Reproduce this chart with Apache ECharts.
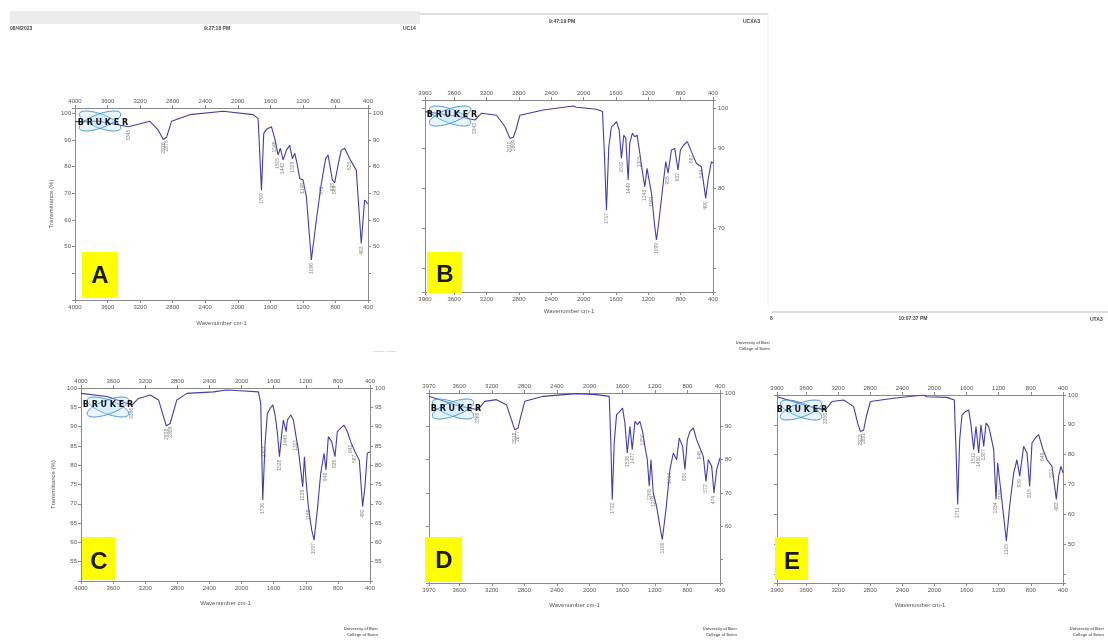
<!DOCTYPE html>
<html><head><meta charset="utf-8">
<script src="https://cdn.jsdelivr.net/npm/echarts@6/dist/echarts.min.js"></script>
<style>html,body{margin:0;padding:0;background:#fff}#c{width:1108px;height:644px}</style>
</head><body><div id="c"></div>
<script>
// ---------- DATA ----------
const wnA = [4000,3700,3345,3080,2977,2916,2875,2814,2589,2180,1811,1750,1709,1681,1648,1587,1546,1505,1476,1443,1402,1362,1329,1300,1272,1239,1198,1157,1096,1035,973,920,891,838,809,768,728,687,625,544,483,442,400];
const tA  = [96.9,97,95,97,93.7,90.2,91,97,99.5,100.8,99.5,98,71.2,92.5,94,95,90.6,84.4,86.9,82.5,86.2,88,83,85,81.2,75.6,75,68.7,45,60,73.7,83,84.4,75,74,80.6,86.2,86.9,83,78.7,51.2,67.5,66];
const peaksA = [3345,2916,2875,1709,1546,1505,1443,1329,1198,1096,973,838,809,625,483];

const wnB = [3960,3528,3343,3260,3075,2972,2910,2869,2836,2787,2499,2128,2087,1840,1766,1746,1717,1688,1655,1626,1593,1560,1532,1503,1478,1449,1429,1396,1367,1338,1305,1276,1243,1215,1190,1161,1120,1099,1067,1025,984,955,914,873,832,803,762,717,667,606,544,490,461,420,400];
const tB  = [99.1,97.8,97,98.7,98.2,95.3,92.4,92.7,94.5,98.2,99.5,100.5,100.2,99.7,99.1,90.3,74.5,90.3,95.3,95.8,96.6,94.5,87.4,93.2,92.4,82,91.2,93.7,92.8,93.2,88.7,84.5,80.3,84.9,82,78.7,70.3,67,72,79.5,86.6,83.7,89.5,89.9,84.5,89.5,90.75,91.6,89.1,86.2,85.3,77.4,82,86.6,86.2];
const peaksB = [3343,2910,2869,1717,1532,1449,1305,1243,1161,1099,955,832,667,544,490];

const wnC = [4000,3677,3366,3283,3137,3034,2972,2938,2889,2855,2806,2681,2349,2184,2018,1790,1761,1736,1707,1678,1644,1611,1582,1553,1528,1499,1479,1445,1429,1387,1354,1321,1292,1263,1238,1217,1197,1168,1126,1097,1056,1014,973,948,919,877,836,807,765,724,682,641,587,533,492,463,434,400];
const tC  = [98.6,97.8,95.6,97.3,98.2,96.9,92.6,90.2,90.8,93.4,96.9,98.6,99,99.5,99.3,99,96,71,85.7,93.4,94.7,95.6,93,88.3,82.2,88.3,91.7,88.7,91.7,93,91.7,87.4,83.9,78.8,74.4,82.2,76.2,69.3,63.2,60.6,68.4,77.9,83.1,78.8,87.4,86.1,82.2,88.7,89.6,90.4,88.7,86.1,83.5,81.3,69.3,74.4,83.1,83.5];
const peaksC = [3366,2938,2889,1736,1707,1528,1445,1321,1238,1168,1097,948,836,641,587,492];

const wnD = [3970,3593,3368,3286,3143,3020,2959,2918,2877,2844,2795,2570,2160,1915,1759,1739,1722,1698,1669,1628,1595,1567,1538,1505,1477,1444,1411,1383,1350,1321,1292,1268,1247,1219,1178,1137,1108,1063,1014,973,932,900,859,830,801,768,727,687,646,605,572,543,502,474,441,400];
const tD  = [99,96,95,97.5,98,96.5,92,89,89.5,93,97.5,99,99.8,99.5,99,85,68,85,93.5,94.5,95.5,91,82,90,83,91.5,90.5,91.5,88.5,84,80,72,80,70,66,60,56,65,77,82,80,86.5,84,77,86,88.5,89.5,86,83.5,81,73.5,80,78,70,77,80.5];
const peaksD = [3368,2918,2877,1722,1538,1477,1350,1268,1219,1108,1014,830,646,572,474];

const wnE = [3960,3545,3358,3275,3130,3006,2956,2923,2881,2848,2798,2508,2134,2093,1844,1753,1732,1711,1686,1657,1616,1574,1545,1512,1483,1450,1421,1387,1358,1325,1297,1263,1234,1213,1180,1139,1105,1064,1014,973,939,890,848,815,786,744,703,649,599,537,483,454,425,400];
const tE  = [99.4,96.1,95,97.8,98.3,96.1,90.6,87.8,88.3,92.8,97.8,98.9,100,99.4,99.2,98.3,81.7,63.3,85,93.3,94.4,95,90,81.7,89.4,80.6,90,82.8,90.6,89.4,86.1,81.7,65,77.2,69.4,59.4,51.1,62.8,73.9,78.3,72.8,82.8,80.6,69.4,83.9,85.6,86.7,81.7,78.3,76.1,65,72.8,76.1,73.9];
const peaksE = [3358,2923,2881,1711,1512,1450,1387,1234,1180,1105,939,815,649,537,483];

const yLabelsA = [50,60,70,80,90,100];
const yLabelsB = [70,80,90,100];
const yLabelsC = [55,60,65,70,75,80,85,90,95,100];
const yLabelsD = [60,70,80,90,100];
const yLabelsE = [50,60,70,80,90,100];
const panelLetters = ['A','B','C','D','E'];
const xAxisTitle = 'Wavenumber cm-1';
const yAxisTitle = 'Transmittance (%)';

// ---------- LAYOUT ----------
const panels = [
  {wn:wnA,t:tA,peaks:peaksA,yl:yLabelsA,xMax:4000,yMin:30,yMax:102,yInt:10,grid:{left:75,top:108,width:293,height:192},leftLab:true,rightLab:true,yName:true,xNameGap:20,yNameGap:21},
  {wn:wnB,t:tB,peaks:peaksB,yl:yLabelsB,xMax:3960,yMin:54,yMax:102,yInt:null,grid:{left:425,top:100,width:288,height:192},leftLab:false,rightLab:true,yName:false,xNameGap:16},
  {wn:wnC,t:tC,peaks:peaksC,yl:yLabelsC,xMax:4000,yMin:50,yMax:100,yInt:5,grid:{left:81,top:388,width:289,height:193},leftLab:true,rightLab:true,yName:true,xNameGap:19,yNameGap:25},
  {wn:wnD,t:tD,peaks:peaksD,yl:yLabelsD,xMax:3970,yMin:43,yMax:100,yInt:null,grid:{left:429,top:393,width:291,height:190},leftLab:false,rightLab:true,yName:false,xNameGap:19},
  {wn:wnE,t:tE,peaks:peaksE,yl:yLabelsE,xMax:3960,yMin:37,yMax:100,yInt:null,grid:{left:777,top:395,width:286,height:188},leftLab:false,rightLab:true,yName:false,xNameGap:19}
];

const LINE = '#3f3fa3', AX = '#8a8a8a', LAB = '#555', FONT = 'Liberation Sans';
const grids = [], xAxes = [], yAxes = [], series = [];

panels.forEach((p, i) => {
  grids.push(Object.assign({containLabel:false}, p.grid));
  const xBase = {type:'value', gridIndex:i, min:400, max:p.xMax, interval:400, inverse:true,
    axisLine:{show:true,lineStyle:{color:AX,width:1}}, axisTick:{show:true,length:3,lineStyle:{color:AX}},
    splitLine:{show:false},
    axisLabel:{fontSize:6,color:LAB,margin:4,fontFamily:FONT,hideOverlap:false,formatter:v=>String(Math.round(v))}};
  xAxes.push(Object.assign({}, xBase, {position:'bottom', name:xAxisTitle, nameLocation:'middle', nameGap:p.xNameGap,
    nameTextStyle:{fontSize:6,color:LAB,fontFamily:FONT}}));
  xAxes.push(Object.assign({}, xBase, {position:'top'}));
  const fmt = v => p.yl.some(l => Math.abs(l - v) < 1e-6) ? String(Math.round(v)) : '';
  const yBase = {type:'value', gridIndex:i, min:p.yMin, max:p.yMax,
    axisLine:{show:true,lineStyle:{color:AX,width:1}}, axisTick:{show:true,length:3,lineStyle:{color:AX}},
    splitLine:{show:false}};
  if (p.yInt) yBase.interval = p.yInt; else { yBase.minInterval = 10; yBase.maxInterval = 10; }
  yAxes.push(Object.assign({}, yBase, {position:'left',
    axisLabel:{show:p.leftLab,fontSize:6,color:LAB,margin:4,fontFamily:FONT,formatter:fmt},
    name:p.yName ? yAxisTitle : '', nameLocation:'middle', nameGap:p.yNameGap || 20,
    nameTextStyle:{fontSize:6,color:LAB,fontFamily:FONT}}));
  yAxes.push(Object.assign({}, yBase, {position:'right',
    axisLabel:{show:p.rightLab,fontSize:6,color:LAB,margin:5,fontFamily:FONT,formatter:fmt}}));
  series.push({type:'line', xAxisIndex:2*i, yAxisIndex:2*i, data:p.wn.map((w,k)=>[w,p.t[k]]),
    showSymbol:false, symbol:'none', lineStyle:{color:LINE,width:1.1}, animation:false, z:3});
  series.push({type:'scatter', xAxisIndex:2*i, yAxisIndex:2*i,
    data:p.peaks.map(w=>[w, p.t[p.wn.indexOf(w)]]), symbolSize:0, animation:false, z:4, silent:true,
    label:{show:true, formatter:d=>String(d.value[0]), rotate:90, position:'bottom', distance:3,
      align:'right', verticalAlign:'middle', fontSize:5, color:'#666', fontFamily:FONT}});
});

// ---------- DECORATION ----------
const G = [];
const txt = (x,y,s,o) => G.push(Object.assign({type:'text', x, y, z:20,
  style:Object.assign({text:s, fill:'#444', fontSize:5, fontFamily:FONT, fontWeight:'bold', align:'left', verticalAlign:'middle'}, o||{})}));
// page headers
G.push({type:'rect', shape:{x:10,y:11,width:410,height:13}, style:{fill:'#ebebeb'}, z:1});
G.push({type:'line', shape:{x1:420,y1:14,x2:768,y2:14}, style:{stroke:'#dedede',lineWidth:2}, z:1});
G.push({type:'line', shape:{x1:768,y1:14,x2:768,y2:305}, style:{stroke:'#ececec',lineWidth:1}, z:1});
G.push({type:'line', shape:{x1:772,y1:312,x2:1108,y2:312}, style:{stroke:'#dedede',lineWidth:2}, z:1});
txt(10,29,'08/4/2023');
txt(217,29,'9:27:18 PM',{align:'center'});
txt(403,29,'UC14');
txt(562,22,'9:47:19 PM',{align:'center'});
txt(743,22,'UCXA3');
txt(770,319,'8');
txt(913,319,'10:07:37 PM',{align:'center'});
txt(1090,320,'UTA3');
[[770,343],[378,629],[737,629],[1104,629]].forEach(([x,y])=>{
  txt(x,y,'University of Basr',{align:'right',fontSize:4,fill:'#666'});
  txt(x,y+6,'College of Scien',{align:'right',fontSize:4,fill:'#666'});
});
txt(385,352,'—— ·——',{fontSize:5,fill:'#aaa',fontWeight:'normal',align:'center'});
// yellow letter boxes
const boxes = [[82,252,36,46,100,276],[427,252,35,41,445,275],[82,537,33,43,99,562],[425,537,37,45,444,561],[775,537,33,43,792,562]];
boxes.forEach((b,i)=>{
  G.push({type:'rect', shape:{x:b[0],y:b[1],width:b[2],height:b[3]}, style:{fill:'#ffff00'}, z:15});
  G.push({type:'text', x:b[4], y:b[5], z:16, style:{text:panelLetters[i], fill:'#1a1a1a', fontSize:24, fontWeight:'bold',
    fontFamily:FONT, align:'center', verticalAlign:'middle'}});
});
// Bruker logos
const logos = [[100,121,103,123],[450,116,452,115],[108,407,108,405],[453,409,456,409],[801,410,802,410]];
logos.forEach(l=>{
  [-0.35,0.35].forEach(r=>G.push({type:'ellipse', shape:{cx:l[0],cy:l[1],rx:22,ry:7}, rotation:r, originX:l[0], originY:l[1],
    style:{fill:'rgba(190,225,248,0.35)', stroke:'#3a8fd0', lineWidth:0.8}, z:12}));
  G.push({type:'text', x:l[2], y:l[3], z:13, style:{text:'B R U K E R', fill:'#111', fontSize:8, fontWeight:'bold',
    fontFamily:'DejaVu Sans', align:'center', verticalAlign:'middle'}});
});

const chart = echarts.init(document.getElementById('c'), null, {renderer:'canvas'});
chart.setOption({animation:false, backgroundColor:'#fff', grid:grids, xAxis:xAxes, yAxis:yAxes, series, graphic:G});
</script></body></html>
